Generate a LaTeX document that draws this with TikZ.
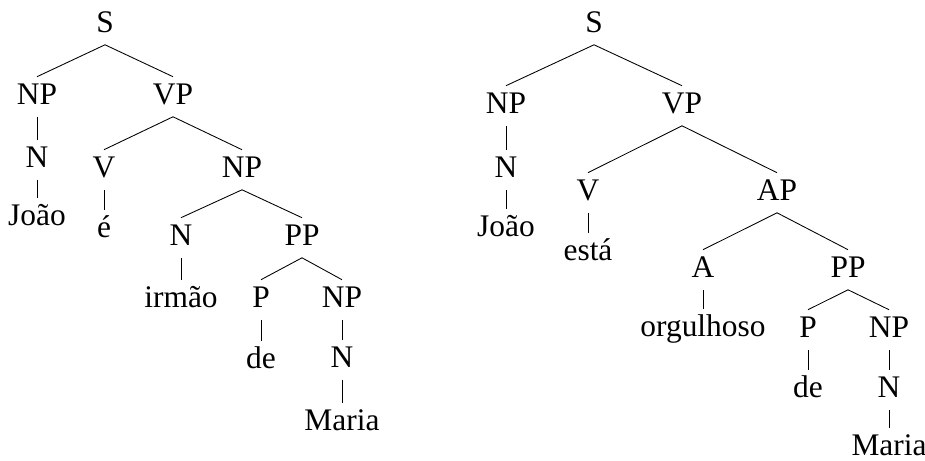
\documentclass[tikz,border=0pt]{standalone}
\usepackage{fontspec}
\setmainfont{Liberation Serif}
\begin{document}
\begin{tikzpicture}[x=.4615pt,y=-.4615pt,
  every node/.style={anchor=base,inner sep=2.8pt,text height=9.6pt,text depth=2.9pt,
    font=\fontsize{14.5}{17}\selectfont}]
\useasboundingbox (0,0) rectangle (925,460);
% left tree
\node (s) at (105,32) {S};
\node (np) at (37,104) {NP};
\node (vp) at (173,104) {VP};
\node (n) at (37,167) {N};
\node (joao) at (37,225) {João};
\node (v) at (104,177) {V};
\node (npb) at (242,177) {NP};
\node (e) at (104,237) {é};
\node (nb) at (181,245) {N};
\node (pp) at (302,245) {PP};
\node (irmao) at (181,307) {irmão};
\node (p) at (261,307) {P};
\node (npc) at (342,307) {NP};
\node (de) at (261,368) {de};
\node (nc) at (342,367) {N};
\node (maria) at (342,430) {Maria};
\draw (s.south) -- (np.north);
\draw (s.south) -- (vp.north);
\draw (np.south) -- (n.north);
\draw (n.south) -- (joao.north);
\draw (vp.south) -- (v.north);
\draw (vp.south) -- (npb.north);
\draw (v.south) -- (e.north);
\draw (npb.south) -- (nb.north);
\draw (npb.south) -- (pp.north);
\draw (nb.south) -- (irmao.north);
\draw (pp.south) -- (p.north);
\draw (pp.south) -- (npc.north);
\draw (p.south) -- (de.north);
\draw (npc.south) -- (nc.north);
\draw (nc.south) -- (maria.north);
% right tree
\node (s2) at (594,32) {S};
\node (np2) at (506,113) {NP};
\node (vp2) at (682,113) {VP};
\node (n2) at (506,177) {N};
\node (joao2) at (506,236) {João};
\node (v2) at (588,200) {V};
\node (ap2) at (777,200) {AP};
\node (esta2) at (588,260) {está};
\node (a2) at (703,277) {A};
\node (pp2) at (848,277) {PP};
\node (orgulhoso2) at (703,336) {orgulhoso};
\node (p2) at (808,337) {P};
\node (npb2) at (889,337) {NP};
\node (de2) at (808,397) {de};
\node (nb2) at (889,397) {N};
\node (maria2) at (889,455) {Maria};
\draw (s2.south) -- (np2.north);
\draw (s2.south) -- (vp2.north);
\draw (np2.south) -- (n2.north);
\draw (n2.south) -- (joao2.north);
\draw (vp2.south) -- (v2.north);
\draw (vp2.south) -- (ap2.north);
\draw (v2.south) -- (esta2.north);
\draw (ap2.south) -- (a2.north);
\draw (ap2.south) -- (pp2.north);
\draw (a2.south) -- (orgulhoso2.north);
\draw (pp2.south) -- (p2.north);
\draw (pp2.south) -- (npb2.north);
\draw (p2.south) -- (de2.north);
\draw (npb2.south) -- (nb2.north);
\draw (nb2.south) -- (maria2.north);
\end{tikzpicture}
\end{document}
